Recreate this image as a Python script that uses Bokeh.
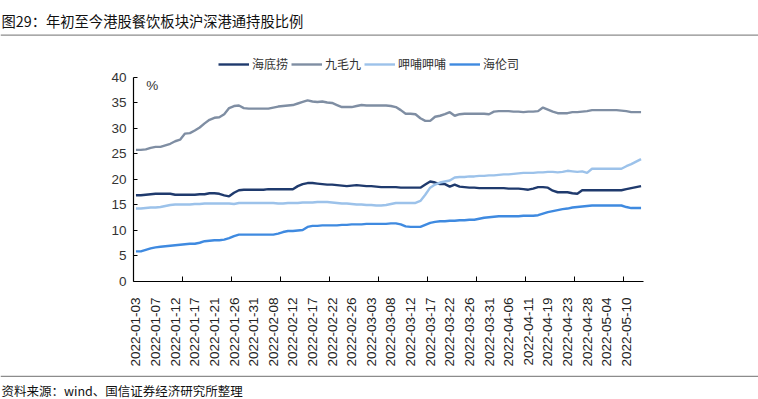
from bokeh.plotting import figure
from bokeh.models import Range1d, FixedTicker, Legend, LegendItem, Label, BoxAnnotation, ColumnDataSource
from bokeh.layouts import column
from bokeh.embed import file_html
from bokeh.resources import INLINE
import math

title_text = "图29：年初至今港股餐饮板块沪深港通持股比例"
source_text = "资料来源：wind、国信证券经济研究所整理"

dates = [
    "2022-01-03", "2022-01-04", "2022-01-05", "2022-01-06",
    "2022-01-07", "2022-01-08", "2022-01-10", "2022-01-11",
    "2022-01-12", "2022-01-13", "2022-01-14", "2022-01-15",
    "2022-01-17", "2022-01-18", "2022-01-19", "2022-01-20",
    "2022-01-21", "2022-01-22", "2022-01-24", "2022-01-25",
    "2022-01-26", "2022-01-27", "2022-01-28", "2022-01-29",
    "2022-01-31", "2022-02-04", "2022-02-05", "2022-02-07",
    "2022-02-08", "2022-02-09", "2022-02-10", "2022-02-11",
    "2022-02-12", "2022-02-14", "2022-02-15", "2022-02-16",
    "2022-02-17", "2022-02-18", "2022-02-19", "2022-02-21",
    "2022-02-22", "2022-02-23", "2022-02-24", "2022-02-25",
    "2022-02-26", "2022-02-28", "2022-03-01", "2022-03-02",
    "2022-03-03", "2022-03-04", "2022-03-05", "2022-03-07",
    "2022-03-08", "2022-03-09", "2022-03-10", "2022-03-11",
    "2022-03-12", "2022-03-14", "2022-03-15", "2022-03-16",
    "2022-03-17", "2022-03-18", "2022-03-19", "2022-03-21",
    "2022-03-22", "2022-03-23", "2022-03-24", "2022-03-25",
    "2022-03-26", "2022-03-28", "2022-03-29", "2022-03-30",
    "2022-03-31", "2022-04-01", "2022-04-02", "2022-04-04",
    "2022-04-06", "2022-04-07", "2022-04-08", "2022-04-09",
    "2022-04-11", "2022-04-12", "2022-04-13", "2022-04-14",
    "2022-04-19", "2022-04-20", "2022-04-21", "2022-04-22",
    "2022-04-23", "2022-04-25", "2022-04-26", "2022-04-27",
    "2022-04-28", "2022-04-29", "2022-04-30", "2022-05-03",
    "2022-05-04", "2022-05-05", "2022-05-06", "2022-05-07",
    "2022-05-10", "2022-05-11", "2022-05-12", "2022-05-13",
]

haidilao = [
    16.9, 16.9, 17.0, 17.1, 17.2, 17.2, 17.2, 17.2, 17.0, 17.0,
    17.0, 17.0, 17.0, 17.1, 17.1, 17.3, 17.3, 17.2, 16.9, 16.7,
    17.4, 17.9, 18.0, 18.0, 18.0, 18.0, 18.0, 18.1, 18.1, 18.1,
    18.1, 18.1, 18.1, 18.7, 19.1, 19.3, 19.3, 19.2, 19.1, 19.0,
    19.0, 18.9, 18.8, 18.7, 18.8, 18.9, 18.8, 18.7, 18.7, 18.6,
    18.5, 18.5, 18.5, 18.5, 18.4, 18.4, 18.4, 18.4, 18.4, 19.0,
    19.6, 19.4, 19.1, 19.1, 18.6, 19.0, 18.6, 18.5, 18.4, 18.4,
    18.3, 18.3, 18.3, 18.3, 18.3, 18.3, 18.2, 18.2, 18.2, 18.1,
    18.0, 18.2, 18.5, 18.5, 18.4, 17.8, 17.5, 17.5, 17.5, 17.3,
    17.2, 17.9, 17.9, 17.9, 17.9, 17.9, 17.9, 17.9, 17.9,
    17.9, 18.1, 18.3, 18.5, 18.7,
]

jiumaojiu = [
    25.8, 25.8, 25.9, 26.2, 26.4, 26.4, 26.7, 27.0, 27.5, 27.8,
    29.0, 29.1, 29.6, 30.2, 31.0, 31.7, 32.1, 32.2, 32.8, 34.0,
    34.4, 34.5, 34.0, 33.9, 33.9, 33.9, 33.9, 33.9, 34.1, 34.3,
    34.4, 34.5, 34.6, 34.9, 35.2, 35.5, 35.3, 35.2, 35.3, 35.1,
    35.0, 34.6, 34.2, 34.2, 34.2, 34.4, 34.6, 34.5, 34.5, 34.5,
    34.5, 34.5, 34.4, 34.2, 33.6, 32.9, 32.9, 32.8, 32.0, 31.5,
    31.5, 32.3, 32.5, 32.8, 33.2, 32.5, 32.8, 32.9, 32.9, 32.9,
    32.9, 32.9, 32.8, 33.3, 33.4, 33.4, 33.4, 33.3, 33.3, 33.2,
    33.3, 33.3, 33.4, 34.1, 33.7, 33.3, 33.0, 33.0, 33.0, 33.2,
    33.2, 33.3, 33.4, 33.6, 33.6, 33.6, 33.6, 33.6, 33.6,
    33.5, 33.4, 33.2, 33.2, 33.2,
]

xiabu = [
    14.3, 14.3, 14.4, 14.5, 14.5, 14.6, 14.8, 15.0, 15.1, 15.1,
    15.1, 15.1, 15.2, 15.2, 15.3, 15.3, 15.3, 15.3, 15.3, 15.3,
    15.2, 15.4, 15.4, 15.4, 15.4, 15.4, 15.4, 15.4, 15.4, 15.3,
    15.3, 15.4, 15.4, 15.4, 15.5, 15.5, 15.5, 15.6, 15.6, 15.6,
    15.5, 15.4, 15.3, 15.3, 15.2, 15.1, 15.1, 15.0, 15.0, 14.9,
    14.9, 15.0, 15.2, 15.4, 15.4, 15.4, 15.4, 15.4, 15.8, 17.0,
    18.4, 19.0, 19.4, 19.6, 19.8, 20.4, 20.5, 20.5, 20.6, 20.6,
    20.7, 20.7, 20.8, 20.8, 20.9, 21.0, 21.0, 21.1, 21.2, 21.3,
    21.3, 21.3, 21.4, 21.4, 21.5, 21.5, 21.4, 21.5, 21.7, 21.6,
    21.5, 21.6, 21.3, 22.1, 22.1, 22.1, 22.1, 22.1, 22.1,
    22.1, 22.6, 23.0, 23.5, 24.0,
]

helens = [
    5.9, 5.9, 6.2, 6.5, 6.7, 6.8, 6.9, 7.0, 7.1, 7.2,
    7.3, 7.4, 7.4, 7.6, 7.9, 8.0, 8.1, 8.1, 8.2, 8.5,
    8.9, 9.2, 9.2, 9.2, 9.2, 9.2, 9.2, 9.2, 9.2, 9.4,
    9.7, 9.9, 9.9, 10.0, 10.1, 10.7, 10.9, 10.9, 11.0, 11.0,
    11.0, 11.0, 11.1, 11.1, 11.2, 11.2, 11.2, 11.3, 11.3, 11.3,
    11.3, 11.3, 11.4, 11.4, 11.2, 10.8, 10.7, 10.7, 10.7, 11.1,
    11.5, 11.7, 11.8, 11.8, 11.9, 11.9, 12.0, 12.0, 12.1, 12.1,
    12.3, 12.5, 12.6, 12.7, 12.8, 12.8, 12.8, 12.8, 12.8, 12.9,
    12.9, 12.9, 13.0, 13.3, 13.6, 13.8, 14.0, 14.2, 14.3, 14.5,
    14.6, 14.7, 14.8, 14.9, 14.9, 14.9, 14.9, 14.9, 14.9,
    14.9, 14.6, 14.4, 14.4, 14.4,
]

series_names = ["海底捞", "九毛九", "呷哺呷哺", "海伦司"]
series_values = [haidilao, jiumaojiu, xiabu, helens]
series_colors = ["#1f3a6d", "#7f8ea3", "#9cc2ea", "#3f8ae0"]

y_ticks = [0, 5, 10, 15, 20, 25, 30, 35, 40]
label_step = 4
tick_step = 10

N = len(dates)
xs = list(range(N))
W = 758


def strip(height):
    f = figure(width=W, height=height, output_backend="svg", toolbar_location=None,
               x_range=Range1d(0, W), y_range=Range1d(0, height),
               x_axis_type=None, y_axis_type=None, min_border=0)
    f.outline_line_color = None
    f.grid.visible = False
    if "frame_align" in f.properties():
        f.frame_align = False
    return f


# ---- header strip (title + rule) ----
top = strip(36)
top.add_layout(Label(x=1, y=16, text=title_text, text_baseline="middle",
                     text_font="Noto Sans CJK SC", text_font_size="14.3px", text_color="#111111"))
top.add_layout(BoxAnnotation(bottom=0.8, top=2.1, fill_color="#8c8c8c", fill_alpha=1,
                             line_color=None))

# ---- main chart ----
p = figure(width=W, height=336, output_backend="svg", toolbar_location=None,
           x_range=Range1d(-0.5, N - 0.5), y_range=Range1d(0, 47.25),
           min_border_left=133, min_border_right=115, min_border_top=4, min_border_bottom=91)
p.outline_line_color = None
p.xgrid.visible = False
p.ygrid.visible = False
if "frame_align" in p.properties():
    p.frame_align = False

renderers = []
for name, vals, col in zip(series_names, series_values, series_colors):
    src = ColumnDataSource(dict(x=xs, y=vals))
    r = p.line("x", "y", source=src, line_color=col, line_width=2.4)
    renderers.append((name, r))

xa = p.xaxis[0]
xa.ticker = FixedTicker(ticks=list(range(0, N, label_step)),
                        minor_ticks=[k - 0.5 for k in range(tick_step, N, tick_step)])
xa.major_label_overrides = {i: dates[i] for i in range(0, N, label_step)}
xa.major_label_orientation = math.pi / 2
xa.major_tick_line_color = None
xa.minor_tick_in = 5
xa.minor_tick_out = 0
xa.minor_tick_line_color = "black"
xa.axis_line_color = "black"
xa.axis_line_width = 1.2
xa.major_label_standoff = 10
xa.major_label_text_font = "Liberation Sans"
xa.major_label_text_font_size = "13.5px"
xa.major_label_text_color = "#222222"

ya = p.yaxis[0]
ya.ticker = FixedTicker(ticks=y_ticks)
ya.bounds = (0, 40)
ya.major_tick_in = 4
ya.major_tick_out = 0
ya.minor_tick_line_color = None
ya.axis_line_color = "black"
ya.axis_line_width = 1.2
ya.major_label_standoff = 7
ya.major_label_text_font = "Liberation Sans"
ya.major_label_text_font_size = "13.5px"
ya.major_label_text_color = "#333333"

p.add_layout(Label(x=2.1, y=38.5, text="%", text_baseline="middle",
                   text_font="Liberation Sans", text_font_size="13.5px", text_color="#333333"))

legend = Legend(items=[LegendItem(label=n, renderers=[r]) for n, r in renderers],
                orientation="horizontal", location=(85, 209),
                glyph_width=31, glyph_height=14, label_height=14, label_standoff=3, spacing=3,
                padding=0, margin=0, border_line_color=None, background_fill_alpha=0,
                label_text_font="Noto Sans CJK SC", label_text_font_size="12px",
                label_text_color="#333333")
p.add_layout(legend)

# ---- footer strip (rule + source) ----
bottom = strip(27)
bottom.add_layout(BoxAnnotation(bottom=22.4, top=23.7, fill_color="#8c8c8c", fill_alpha=1,
                                line_color=None))
bottom.add_layout(Label(x=1, y=9, text=source_text, text_baseline="middle",
                        text_font="Noto Sans CJK SC", text_font_size="12.5px", text_color="#111111"))

layout = column(top, p, bottom, spacing=0)
open("out.html", "w").write(file_html(layout, INLINE))
